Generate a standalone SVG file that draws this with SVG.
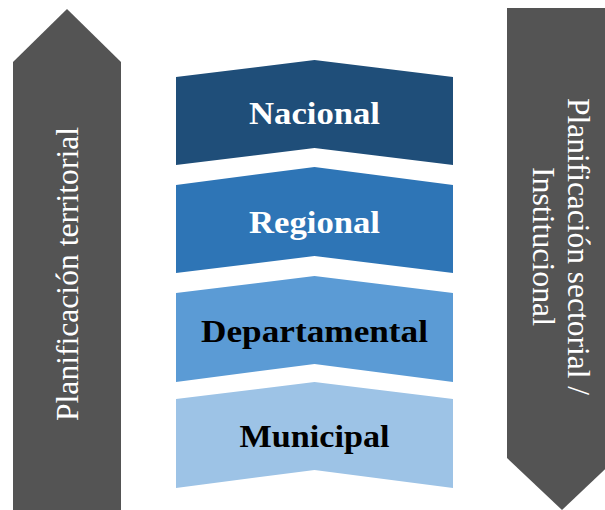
<svg xmlns="http://www.w3.org/2000/svg" width="605" height="510" viewBox="0 0 605 510">
<style>
.arrow{fill:#545454}
.side{font-family:"Liberation Serif",serif;font-size:31px;fill:#ffffff}
.lvl{font-family:"Liberation Serif",serif;font-size:32px;font-weight:bold;text-anchor:middle}
</style>
<rect width="605" height="510" fill="#ffffff"/>
<g id="territorial">
<polygon class="arrow" points="13,512 13,62 67,9 121,62 121,512"/>
<text class="side" text-anchor="middle" transform="translate(78,274) rotate(-90)" textLength="294" lengthAdjust="spacingAndGlyphs">Planificación territorial</text>
</g>
<g id="sectorial">
<polygon class="arrow" points="507,8 620,8 620,455 562,510 507,458"/>
<text class="side" text-anchor="middle" transform="translate(568,246.5) rotate(90)"><tspan x="0" y="0" textLength="297" lengthAdjust="spacingAndGlyphs">Planificación sectorial /</tspan><tspan x="0" y="35" textLength="159" lengthAdjust="spacingAndGlyphs">Institucional</tspan></text>
</g>
<g id="nacional">
<polygon fill="#1F4E79" points="176,77 314.5,60 453,77 453,165 314.5,148 176,165"/>
<text class="lvl" x="314.5" y="124" fill="#ffffff" textLength="131" lengthAdjust="spacingAndGlyphs">Nacional</text>
</g>
<g id="regional">
<polygon fill="#2E75B6" points="176,185 314.5,167 453,185 453,273 314.5,256 176,273"/>
<text class="lvl" x="314.5" y="233" fill="#ffffff" textLength="131" lengthAdjust="spacingAndGlyphs">Regional</text>
</g>
<g id="departamental">
<polygon fill="#5B9BD5" points="176,293 314.5,276 453,293 453,382 314.5,364 176,382"/>
<text class="lvl" x="314.5" y="342" fill="#000000" textLength="227" lengthAdjust="spacingAndGlyphs">Departamental</text>
</g>
<g id="municipal">
<polygon fill="#9DC3E6" points="176,399 314.5,382 453,399 453,488 314.5,470 176,488"/>
<text class="lvl" x="314.5" y="447" fill="#000000" textLength="150" lengthAdjust="spacingAndGlyphs">Municipal</text>
</g>
<g id="connectors"/>
</svg>
